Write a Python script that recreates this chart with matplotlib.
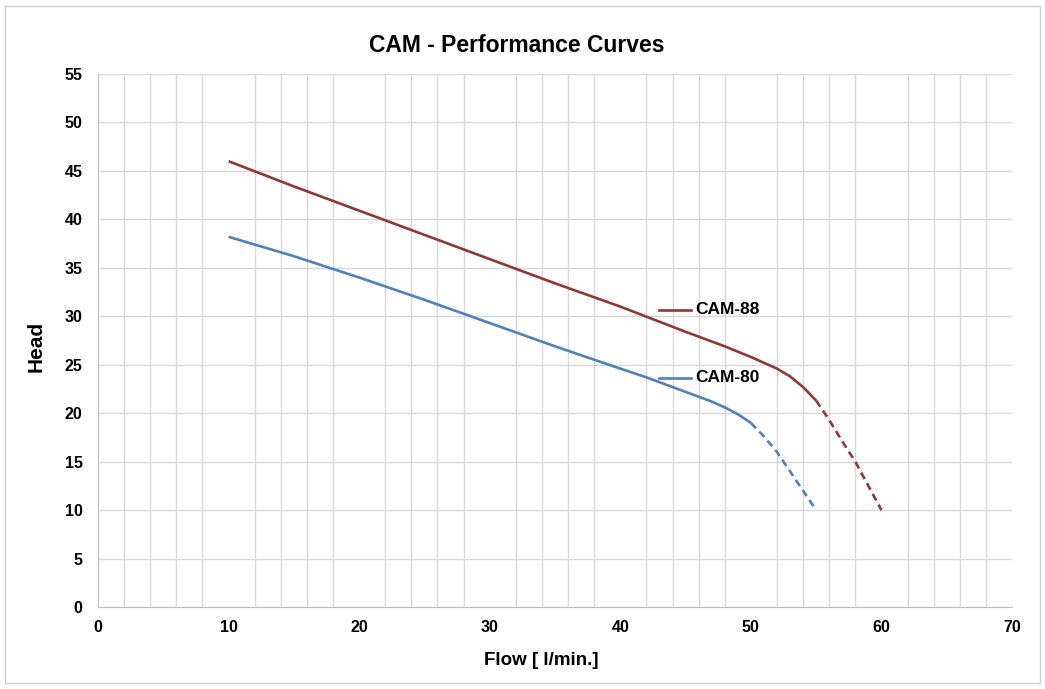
import matplotlib.pyplot as plt
from matplotlib.patches import Rectangle
from matplotlib.lines import Line2D
from matplotlib.ticker import MultipleLocator

plt.rcParams['font.family'] = ['Liberation Sans', 'DejaVu Sans']

# CAM-88 (solid part, then extrapolated dashed part)
cam88_flow = [10, 15, 20, 25, 30, 35, 40, 45, 48, 50, 52, 53, 54, 55]
cam88_head = [46.0, 43.4, 40.9, 38.4, 35.9, 33.4, 31.0, 28.4, 26.9, 25.8, 24.6, 23.8, 22.7, 21.3]
cam88_ext_flow = [55, 56, 57, 58, 59, 60]
cam88_ext_head = [21.3, 19.3, 17.1, 15.0, 12.5, 10.0]

# CAM-80
cam80_flow = [10, 15, 20, 25, 30, 35, 40, 42, 44, 46, 47, 48, 49, 50]
cam80_head = [38.2, 36.2, 34.0, 31.7, 29.3, 26.9, 24.6, 23.7, 22.7, 21.7, 21.2, 20.6, 19.9, 19.0]
cam80_ext_flow = [50, 51, 52, 53, 54, 55]
cam80_ext_head = [19.0, 17.6, 16.0, 14.0, 12.0, 10.0]

red = '#943634'
blue = '#4F81BD'
grid = '#D9D9D9'
lw = 1.9

fig = plt.figure(figsize=(10.45, 6.89), dpi=100)
fig.patches.append(Rectangle((0.0045, 0.008), 0.9905, 0.983, transform=fig.transFigure,
                             fill=False, edgecolor='#D0D0D0', linewidth=1))
ax = fig.add_axes([0.0938, 0.119, 0.8746, 0.7736])

ax.plot(cam88_flow, cam88_head, color=red, linewidth=lw, solid_capstyle='butt')
ax.plot(cam88_ext_flow, cam88_ext_head, color=red, linewidth=lw, linestyle=(0, (2.8, 1.8)))
ax.plot(cam80_flow, cam80_head, color=blue, linewidth=lw, solid_capstyle='butt')
ax.plot(cam80_ext_flow, cam80_ext_head, color=blue, linewidth=lw, linestyle=(0, (2.8, 1.8)))

ax.set_xlim(0, 70)
ax.set_ylim(0, 55)
ax.xaxis.set_major_locator(MultipleLocator(10))
ax.xaxis.set_minor_locator(MultipleLocator(2))
ax.yaxis.set_major_locator(MultipleLocator(5))
ax.grid(True, which='minor', axis='x', color=grid, linewidth=1)
ax.grid(True, which='major', axis='y', color=grid, linewidth=1)
ax.set_axisbelow(True)
ax.tick_params(which='both', length=0, labelsize=11.5)
ax.tick_params(axis='x', pad=9)
ax.tick_params(axis='y', pad=11)
for lab in ax.get_xticklabels() + ax.get_yticklabels():
    lab.set_fontweight('bold')
for s in ['top', 'right']:
    ax.spines[s].set_visible(False)
for s in ['left', 'bottom']:
    ax.spines[s].set_color('#BFBFBF')

fig.text(541 / 1045, 1 - 665 / 689, 'Flow [ l/min.]', fontsize=13.5, fontweight='bold',
         ha='center', va='baseline')
fig.text(36 / 1045, 1 - 346 / 689, 'Head', fontsize=15, fontweight='bold',
         rotation=90, ha='center', va='center')
fig.text(517 / 1045, 1 - 52.3 / 689, 'CAM - Performance Curves', fontsize=16.5,
         fontweight='bold', ha='center', va='baseline')

# series labels with short key lines
for name, col, yk in [('CAM-88', red, 0.5577), ('CAM-80', blue, 0.4301)]:
    ax.add_line(Line2D([0.6137, 0.6493], [yk, yk], transform=ax.transAxes,
                       color=col, linewidth=lw))
    ax.text(0.6540, yk, name, transform=ax.transAxes, fontsize=12.5,
            fontweight='bold', va='center', ha='left')

fig.savefig('out.png', dpi=100)
